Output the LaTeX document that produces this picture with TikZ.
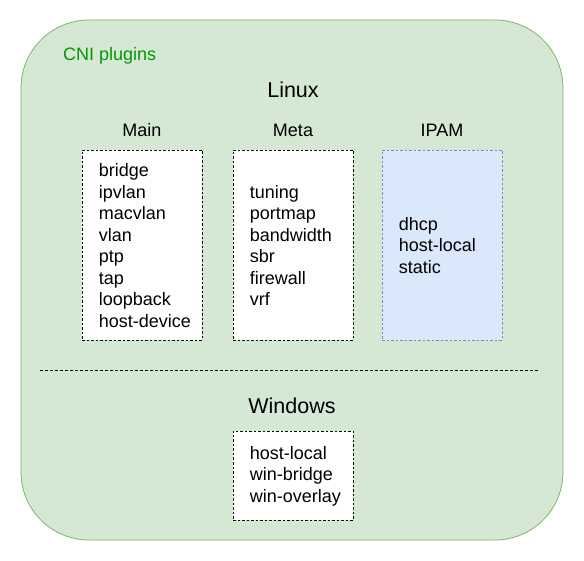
\documentclass[tikz,border=0pt]{standalone}
\usepackage{fontspec}
\setmainfont{Liberation Sans}
\definecolor{grfill}{HTML}{D5E8D4}
\definecolor{grline}{HTML}{82B366}
\definecolor{blfill}{HTML}{DAE8FC}
\definecolor{blline}{HTML}{6C8EBF}
\definecolor{cnigreen}{HTML}{009900}
\begin{document}
\begin{tikzpicture}[x=1pt,y=-1pt,
  plugbox/.style={draw=black,dashed,dash pattern=on 2.5pt off 2pt,fill=white,line width=0.8pt,minimum width=120pt,minimum height=190pt,inner sep=0pt},
  listtext/.style={anchor=west,align=left,font=\fontsize{18}{21.5}\selectfont,inner sep=0pt},
  head/.style={font=\fontsize{18}{21}\selectfont,inner sep=0pt},
  bighead/.style={font=\fontsize{21.5}{25}\selectfont,inner sep=0pt}]
\useasboundingbox (0,0) rectangle (584,561);
\draw[fill=grfill,draw=grline,line width=0.8pt,rounded corners=68pt] (21,20) rectangle (563,540);
\node[anchor=west,text=cnigreen,font=\fontsize{18}{21}\selectfont,inner sep=0pt] (cni) at (63,55.5) {CNI plugins};
\node[bighead] (linux) at (293,90) {Linux};
\node[head] (mainh) at (142,130.5) {Main};
\node[head] (metah) at (293,130.5) {Meta};
\node[head] (ipamh) at (442,130.5) {IPAM};
\node[plugbox] (mainbox) at (142,245) {};
\node[plugbox] (metabox) at (293,245) {};
\node[plugbox,fill=blfill,draw=blline] (ipambox) at (442,245) {};
\node[listtext] (mainlist) at ([xshift=17pt,yshift=-0.5pt]mainbox.west) {bridge\\ipvlan\\macvlan\\vlan\\ptp\\tap\\loopback\\host-device};
\node[listtext] (metalist) at ([xshift=17pt,yshift=-0.5pt]metabox.west) {tuning\\portmap\\bandwidth\\sbr\\firewall\\vrf};
\node[listtext] (ipamlist) at ([xshift=17pt,yshift=-0.5pt]ipambox.west) {dhcp\\host-local\\static};
\coordinate (sepL) at (40,370);
\coordinate (sepR) at (540,370);
\draw[dashed,dash pattern=on 3pt off 2pt,line width=0.8pt] (sepL) -- (sepR);
\node[bighead] (winh) at (292,406) {Windows};
\node[plugbox,minimum height=89pt] (winbox) at (293,475.5) {};
\node[listtext] (winlist) at ([xshift=17pt,yshift=-0.5pt]winbox.west) {host-local\\win-bridge\\win-overlay};
\end{tikzpicture}
\end{document}
